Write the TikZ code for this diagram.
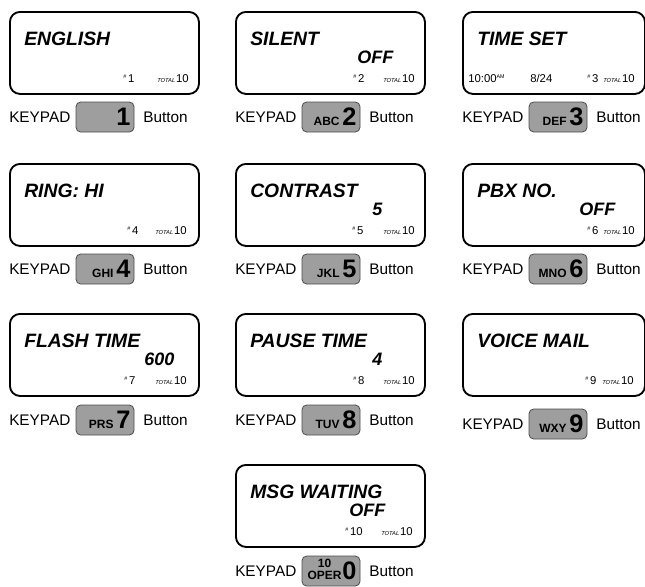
\documentclass[tikz,border=0pt]{standalone}
\usepackage{fontspec}
\setmainfont{Liberation Sans}
\usepackage{tikz}
\usetikzlibrary{positioning}

\newcommand{\ttlfont}{\fontsize{14.5}{16}\selectfont\bfseries\itshape}
\newcommand{\valfont}{\fontsize{13.5}{15}\selectfont\bfseries\itshape}
\newcommand{\cntfont}{\fontsize{8.5}{10}\selectfont}
\newcommand{\totfont}{\fontsize{4.3}{5}\selectfont\itshape}
\newcommand{\tinyfont}{\fontsize{4}{4}\selectfont}
\newcommand{\keyfont}{\fontsize{11.5}{13}\selectfont}
\newcommand{\digfont}{\fontsize{19}{20}\selectfont\bfseries}
\newcommand{\abcfont}{\fontsize{9}{10}\selectfont\bfseries}

\begin{document}
\begin{tikzpicture}[x=0.75pt, y=-0.75pt,
    lcd/.style={draw, line width=1.4pt, rounded corners=7.5pt, anchor=north west,
        minimum height=61.5pt, inner sep=0},
    txt/.style={inner sep=0, anchor=base west},
    keytext/.style={inner sep=0, font=\keyfont},
    keybtn/.style={draw=black!70, fill=black!38, line width=0.6pt, rounded corners=3.5pt,
        minimum height=22.5pt, text width=38pt, inner xsep=2.75pt, inner ysep=0pt, align=right}]
    \useasboundingbox (0,0) rectangle (645,586);

    % Displays
    \foreach \i/\x/\y/\w/\ttl/\val/\vx/\hx/\tx in {
        1/9/11/189/ENGLISH/{}/0/114/148,
        2/235/11/189/SILENT/OFF/122/118/148,
        3/462/11/182/TIME SET/{}/0/125/141,
        4/9/163/189/RING: HI/{}/0/118/146,
        5/235/163/189/CONTRAST/5/137/117/148,
        6/462/163/182/PBX NO./OFF/117/125/141,
        7/9/313/189/FLASH TIME/600/135/115/146,
        8/235/313/189/PAUSE TIME/4/137/118/148,
        9/462/313/182/VOICE MAIL/{}/0/123/140,
        10/235/464/189/MSG WAITING/OFF/114/110/146} {
        \node[lcd, minimum width=\w*0.75pt] (lcd\i) at (\x,\y) {};
        \node[txt, font=\ttlfont] (ttl\i) at ([shift={(15,34)}]lcd\i.north west) {\ttl};
        \node[txt, font=\valfont] (val\i) at ([shift={(\vx,52)}]lcd\i.north west) {\val};
        \node[txt] (num\i) at ([shift={(\hx,71)}]lcd\i.north west)
            {\cntfont\raisebox{2.6pt}{\tinyfont\#}\,\i};
        \node[txt] (tot\i) at ([shift={(\tx,71)}]lcd\i.north west)
            {{\totfont TOTAL}\hspace{0.6pt}{\cntfont 10}};
    }

    % Clock line of the time set display
    \node[txt] (clock) at ([shift={(6,71)}]lcd3.north west)
        {\cntfont 10:00\raisebox{2.6pt}{\tinyfont AM}};
    \node[txt] (date) at ([shift={(68,71)}]lcd3.north west) {\cntfont 8/24};

    % Keypad buttons
    \foreach \i/\x/\y/\abc in {
        1/9/117/{}, 2/235/117/ABC, 3/462/117/DEF,
        4/9/269/GHI, 5/235/269/JKL, 6/462/269/MNO,
        7/9/420/PRS, 8/235/420/TUV, 9/462/424/WXY,
        0/235/571/{\smash{\shortstack{10\\OPER}}\hspace{-1.5pt}}} {
        \node[keytext, anchor=west] (kp\i) at (\x,\y) {KEYPAD};
        \node[keybtn, right=3.75pt of kp\i] (btn\i) {{\abcfont\abc}\hspace{2pt}{\digfont\i}};
        \node[keytext, right=6.5pt of btn\i] (bt\i) {Button};
    }
\end{tikzpicture}
\end{document}
